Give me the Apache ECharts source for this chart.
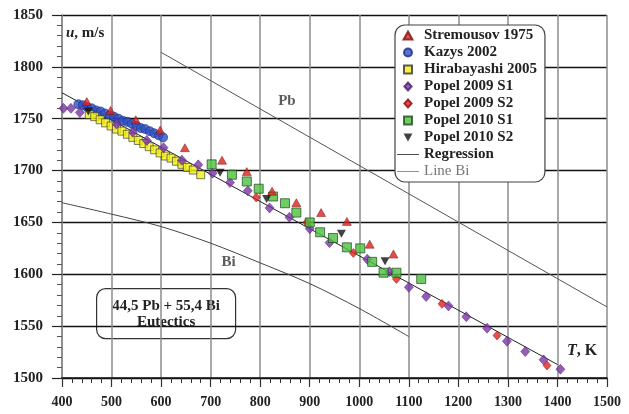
<!DOCTYPE html>
<html><head><meta charset="utf-8">
<script src="https://cdn.jsdelivr.net/npm/echarts@6/dist/echarts.min.js"></script>
<style>html,body{margin:0;padding:0;background:#fff}#c{width:629px;height:414px}</style>
</head><body><div id="c"></div>
<script>
// Data (T in K, u in m/s)
const stremousov1975 = [[450,1766.5],[498,1758],[549,1749],[598,1739],[648,1722],[723,1710],[773,1699],[824,1680],[873,1669],[923,1659.5],[975,1651],[1021,1629],[1069,1619.5]];
const kazys2002 = [[433,1764],[442,1763],[451,1761],[460,1760],[469,1758],[478,1757],[487,1755],[496,1753],[505,1752],[514,1750],[523,1748],[532,1747],[541,1745],[550,1743],[559,1741],[568,1740],[577,1738],[586,1736],[595,1734],[604,1732]];
const hirabayashi2005 = [[455,1754],[466,1752],[477,1749],[488,1746],[499,1743],[510,1740],[521,1738],[532,1735],[543,1732],[554,1729],[565,1726],[576,1723],[587,1720],[598,1717],[609,1714],[620,1712],[631,1709],[642,1706],[653,1703],[665,1700.5],[680,1696]];
const popel2009S1 = [[403,1760],[418,1760],[436,1756],[510,1745],[543,1737],[571,1729],[605,1722],[642,1710],[675,1705.5],[704,1697.5],[739,1688.5],[775,1680.5],[819,1664],[859,1655],[900,1644],[940,1630.5],[1016,1614.5],[1061,1602.5],[1100,1587.5],[1135,1578.5],[1180,1569.5],[1216,1559],[1258,1548],[1298,1535.5],[1335,1525.5],[1372,1517.5],[1406,1508.5]];
const popel2009S2 = [[792,1674],[894,1650],[988,1620.5],[1075,1595.5],[1167,1571.5],[1278,1541],[1379,1512]];
const popel2010S1 = [[702,1706],[743,1696],[773,1689.5],[797,1682.5],[826,1675],[850,1668.5],[873,1659.5],[900,1650],[921,1640.5],[947,1635],[975,1626],[1002,1625],[1026,1612],[1049,1601.5],[1075,1601.5],[1125,1595.5]];
const popel2010S2 = [[453,1757],[719,1698],[813,1672.5],[964,1639],[1052,1612.5]];
const regression = [[400,1775],[1400,1513]];
const lineBi = [[400,1669],[500,1658],[600,1646],[700,1630],[800,1611],[900,1591],[1000,1567],[1100,1540]];
const linePb = [[600,1814],[1500,1568.5]];
const curveLabels = ['Pb','Bi'];

const FF = '"Liberation Serif", "DejaVu Serif", serif';
const ICON = {
  circle:'path://M5,0A5,5,0,1,1,5,10A5,5,0,1,1,5,0Z',
  square:'path://M0,0L10,0L10,10L0,10Z',
  diamond:'path://M5,0L10,5.5L5,11L0,5.5Z',
  up:'path://M5,0L10,9L0,9Z',
  down:'path://M0,0L10,0L5,9Z',
  line:'path://M0,0L22,0L22,1L0,1Z'
};
const chart = echarts.init(document.getElementById('c'), null, {renderer:'canvas'});
const fmt = v => String(v);
chart.setOption({
  animation:false,
  backgroundColor:'#fff',
  grid:{left:62,right:22,top:15,bottom:36,containLabel:false},
  xAxis:{type:'value',min:400,max:1500,interval:100,
    axisLine:{show:true,lineStyle:{color:'#111',width:1.5}},
    axisTick:{show:true,length:9,lineStyle:{color:'#333',width:1.2}},
    minorTick:{show:true,splitNumber:5,length:5,lineStyle:{color:'#333',width:1}},
    axisLabel:{margin:17,formatter:fmt,fontFamily:FF,fontWeight:'bold',fontSize:14,color:'#222'},
    splitLine:{show:true,lineStyle:{color:'#8c8c8c',width:1.5}}},
  yAxis:{type:'value',min:1500,max:1850,interval:50,
    axisLine:{show:true,lineStyle:{color:'#888',width:1.5}},
    axisTick:{show:true,length:10,lineStyle:{color:'#222',width:1.2}},
    minorTick:{show:true,splitNumber:5,length:5,lineStyle:{color:'#555',width:1}},
    axisLabel:{margin:19,formatter:fmt,fontFamily:FF,fontWeight:'bold',fontSize:15,color:'#222'},
    splitLine:{show:true,lineStyle:{color:'#111',width:1.4}}},
  legend:{orient:'vertical',left:395,top:25,padding:[3,8,3,2],itemWidth:22,itemHeight:8,itemGap:2,
    borderColor:'#444',borderWidth:1.2,borderRadius:10,backgroundColor:'#fff',symbolKeepAspect:true,
    textStyle:{fontFamily:FF,fontWeight:'bold',fontSize:15,color:'#222',lineHeight:15},
    data:[
      {name:'Stremousov 1975',icon:ICON.up},
      {name:'Kazys 2002',icon:ICON.circle},
      {name:'Hirabayashi 2005',icon:ICON.square},
      {name:'Popel 2009 S1',icon:ICON.diamond},
      {name:'Popel 2009 S2',icon:ICON.diamond},
      {name:'Popel 2010 S1',icon:ICON.square},
      {name:'Popel 2010 S2',icon:ICON.down},
      {name:'Regression',icon:ICON.line},
      {name:'Line Bi',icon:ICON.line,textStyle:{color:'#777',fontWeight:'normal'}}
    ]},
  graphic:[
    {type:'text',left:66,top:26,style:{text:'{i|u}, m/s',fontFamily:FF,fontWeight:'bold',fontSize:15,fill:'#222',
      rich:{i:{fontStyle:'italic',fontFamily:FF,fontWeight:'bold',fontSize:15,fill:'#222'}}}},
    {type:'text',left:567,top:343,style:{text:'{i|T}, K',fontFamily:FF,fontWeight:'bold',fontSize:16,fill:'#222',
      rich:{i:{fontStyle:'italic',fontFamily:FF,fontWeight:'bold',fontSize:16,fill:'#222'}}}},
    {type:'group',left:96,top:288,z:50,children:[
      {type:'rect',shape:{x:0,y:0,width:139,height:50,r:9},style:{fill:'#fff',stroke:'#333',lineWidth:1.2}},
      {type:'text',x:69.5,y:18,style:{text:'44,5 Pb + 55,4 Bi',fontFamily:FF,fontWeight:'bold',fontSize:15,fill:'#222',align:'center',verticalAlign:'middle'}},
      {type:'text',x:69.5,y:33.5,style:{text:'Eutectics',fontFamily:FF,fontWeight:'bold',fontSize:15,fill:'#222',align:'center',verticalAlign:'middle'}}
    ]}
  ],
  series:[
    {name:'Line Pb',type:'line',data:linePb,symbol:'none',lineStyle:{color:'#555',width:1},z:2,silent:true},
    {name:'Line Bi curve',type:'line',data:lineBi,symbol:'none',smooth:0.3,lineStyle:{color:'#444',width:1},z:2,silent:true},
    {name:'Regression line',type:'line',data:regression,symbol:'none',lineStyle:{color:'#222',width:1},z:2,silent:true},
    {name:'Regression',type:'scatter',data:[],itemStyle:{color:'#222'}},
    {name:'Line Bi',type:'scatter',data:[],itemStyle:{color:'#777'}},
    {name:'Curve labels',type:'scatter',symbolSize:0,z:3,silent:true,
      data:[{name:curveLabels[0],value:[854,1766.5]},{name:curveLabels[1],value:[736,1612]}],
      label:{show:true,position:'inside',formatter:'{b}',fontFamily:FF,fontWeight:'bold',fontSize:15,color:'#333'}},
    {name:'Kazys 2002',type:'scatter',data:kazys2002,symbol:'circle',symbolSize:9,itemStyle:{color:'#2d4fc4',borderColor:'#1a2d80',borderWidth:0.8},z:4},
    {name:'Hirabayashi 2005',type:'scatter',data:hirabayashi2005,symbol:'rect',symbolSize:8,itemStyle:{color:'#f3ef12',borderColor:'#333',borderWidth:0.8},z:4},
    {name:'Popel 2009 S1',type:'scatter',data:popel2009S1,symbol:'diamond',symbolSize:[9,10],itemStyle:{color:'#7a35a6',borderColor:'#4a1f6a',borderWidth:0.6},z:5},
    {name:'Popel 2009 S2',type:'scatter',data:popel2009S2,symbol:'diamond',symbolSize:[8,9],itemStyle:{color:'#e1211e',borderColor:'#8a1010',borderWidth:0.6},z:5},
    {name:'Popel 2010 S1',type:'scatter',data:popel2010S1,symbol:'rect',symbolSize:9,itemStyle:{color:'#4dbf3f',borderColor:'#1d4d1d',borderWidth:0.9},z:5},
    {name:'Popel 2010 S2',type:'scatter',data:popel2010S2,symbol:ICON.down,symbolSize:[9,8],itemStyle:{color:'#111'},z:6},
    {name:'Stremousov 1975',type:'scatter',data:stremousov1975,symbol:'triangle',symbolSize:[9,8],itemStyle:{color:'#d9231f',borderColor:'#7a0f0f',borderWidth:0.6},z:6}
  ]
});
</script></body></html>
